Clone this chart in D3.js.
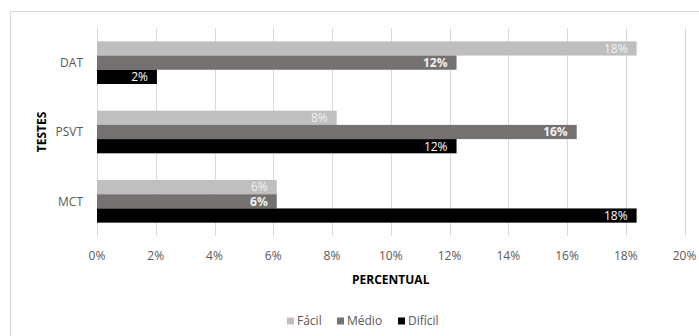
<!DOCTYPE html>
<html>
<head>
<meta charset="utf-8">
<title>Testes por dificuldade</title>
<style>
  body { margin: 0; padding: 0; background: #fff; }
  svg { display: block; font-family: 'Open Sans', 'Noto Sans', sans-serif; }
  .grid line { stroke: #d9d9d9; stroke-width: 1; }
  .tick-label, .cat-label { fill: #595959; font-size: 12px; }
  .axis-title { fill: #000; font-size: 12px; font-weight: bold; }
  .legend text { fill: #595959; font-size: 12px; }
</style>
</head>
<body>
<div id="vis"></div>
<script src="https://cdn.jsdelivr.net/npm/d3@7/dist/d3.min.js"></script>
<script>
  // data (counts out of 49 give the % shown)
  var tests = ['DAT', 'PSVT', 'MCT'];
  var levels = ['Fácil', 'Médio', 'Difícil'];
  var facil = [0.1837, 0.0816, 0.0612];
  var medio = [0.1224, 0.1633, 0.0612];
  var dificil = [0.0204, 0.1224, 0.1837];
  var xTicks = [0, 0.02, 0.04, 0.06, 0.08, 0.10, 0.12, 0.14, 0.16, 0.18, 0.20];

  var colors = { 'Fácil': '#bfbfbf', 'Médio': '#767171', 'Difícil': '#000000' };
  var labelStyle = {
    'Fácil': { fill: '#f2f2f2', weight: 'normal' },
    'Médio': { fill: '#f2f2f2', weight: 'bold' },
    'Difícil': { fill: '#ffffff', weight: 'normal' }
  };

  var width = 699, height = 336,
      plot = { left: 97, right: 684.5, top: 28, bottom: 236 };

  var rows = [];
  tests.forEach(function(t, i) {
    rows.push({ test: t, level: 'Fácil', value: facil[i] });
    rows.push({ test: t, level: 'Médio', value: medio[i] });
    rows.push({ test: t, level: 'Difícil', value: dificil[i] });
  });

  var x = d3.scaleLinear().domain([0, 0.20]).range([plot.left, plot.right]);
  var y = d3.scaleBand().domain(tests).range([plot.top, plot.bottom]).paddingInner(0.385).paddingOuter(0.1925);
  var yInner = d3.scaleBand().domain(levels).range([0, y.bandwidth()]);
  var fmt = d3.format('.0%');

  var svg = d3.select('#vis').append('svg')
    .attr('width', width)
    .attr('height', height);

  // outer chart frame
  svg.append('rect')
    .attr('x', 10.5).attr('y', 11.5)
    .attr('width', 708).attr('height', 340)
    .attr('fill', '#fff')
    .attr('stroke', '#d9d9d9');

  // vertical gridlines
  svg.append('g').attr('class', 'grid')
    .selectAll('line')
    .data(xTicks)
    .enter().append('line')
      .attr('x1', function(d) { return Math.round(x(d)) + 0.5; })
      .attr('x2', function(d) { return Math.round(x(d)) + 0.5; })
      .attr('y1', plot.top)
      .attr('y2', plot.bottom);

  svg.append('g')
    .selectAll('text')
    .data(xTicks)
    .enter().append('text')
      .attr('class', 'tick-label')
      .attr('x', function(d) { return x(d); })
      .attr('y', 260)
      .attr('text-anchor', 'middle')
      .text(fmt);

  // category labels
  svg.append('g')
    .selectAll('text')
    .data(tests)
    .enter().append('text')
      .attr('class', 'cat-label')
      .attr('x', 83)
      .attr('y', function(d) { return y(d) + y.bandwidth() / 2; })
      .attr('dy', '0.35em')
      .attr('text-anchor', 'end')
      .text(function(d) { return d; });

  // bars
  var bar = svg.append('g')
    .selectAll('g')
    .data(rows)
    .enter().append('g')
      .attr('transform', function(d) {
        return 'translate(0,' + (y(d.test) + yInner(d.level)) + ')';
      });

  bar.append('rect')
    .attr('x', x(0))
    .attr('y', 0)
    .attr('width', function(d) { return x(d.value) - x(0); })
    .attr('height', yInner.bandwidth())
    .attr('fill', function(d) { return colors[d.level]; });

  bar.append('text')
    .attr('x', function(d) { return x(d.value) - 9; })
    .attr('y', yInner.bandwidth() / 2)
    .attr('dy', '0.36em')
    .attr('text-anchor', 'end')
    .style('font-size', '12px')
    .style('fill', function(d) { return labelStyle[d.level].fill; })
    .style('font-weight', function(d) { return labelStyle[d.level].weight; })
    .text(function(d) { return fmt(d.value); });

  // axis titles
  svg.append('text')
    .attr('class', 'axis-title')
    .attr('x', (plot.left + plot.right) / 2)
    .attr('y', 284)
    .attr('text-anchor', 'middle')
    .text('PERCENTUAL');

  svg.append('text')
    .attr('class', 'axis-title')
    .attr('transform', 'translate(46,' + (plot.top + plot.bottom) / 2 + ') rotate(-90)')
    .attr('text-anchor', 'middle')
    .text('TESTES');

  // legend
  var legendX = [287, 337, 398];
  var legend = svg.append('g').attr('class', 'legend')
    .selectAll('g')
    .data(levels)
    .enter().append('g')
      .attr('transform', function(d, i) { return 'translate(' + legendX[i] + ',321)'; });

  legend.append('rect')
    .attr('x', 0).attr('y', -3.5)
    .attr('width', 7).attr('height', 7)
    .attr('fill', function(d) { return colors[d]; });

  legend.append('text')
    .attr('x', 10)
    .attr('y', 0)
    .attr('dy', '0.36em')
    .text(function(d) { return d; });
</script>
</body>
</html>
